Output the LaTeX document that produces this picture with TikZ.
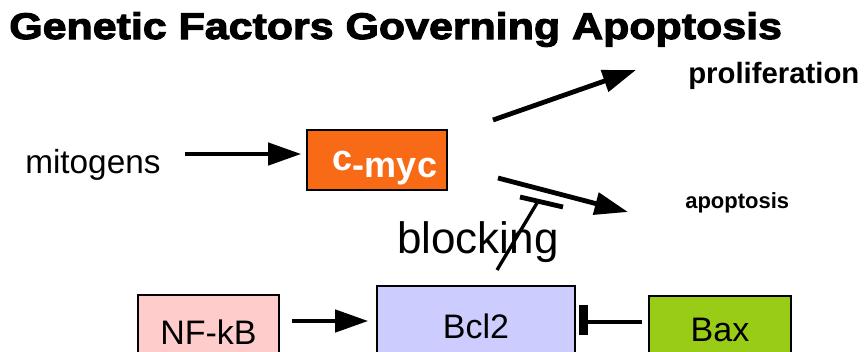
\documentclass[tikz,border=0pt]{standalone}
\usepackage{fontspec}
\setmainfont{Liberation Sans}
\newfontfamily\titlefont{Liberation Sans Bold}[FakeStretch=1.16,FakeBold=3]
\usetikzlibrary{arrows.meta}
\definecolor{mycorange}{HTML}{F96A17}
\definecolor{nfkbpink}{HTML}{FFCCCC}
\definecolor{bclblue}{HTML}{CCCCFF}
\definecolor{baxgreen}{HTML}{99CC16}

\begin{document}
\begin{tikzpicture}[x=0.75pt,y=-0.75pt,color=black,
  thickline/.style={line width=3.6pt},
  arr/.style={thickline,-{Triangle[length=25pt,width=16.5pt]}},
  gene/.style={draw,line width=1pt,inner sep=0pt,font=\fontsize{25.5pt}{30pt}\selectfont}]
\useasboundingbox (0,0) rectangle (867,351);
\node[anchor=base west,inner sep=0pt,font=\titlefont\fontsize{27.75pt}{30pt}\selectfont] (title) at (9,39) {Genetic Factors Governing Apoptosis};
\node[anchor=base west,inner sep=0pt,font=\bfseries\fontsize{22pt}{26pt}\selectfont] (prolif) at (688,83) {proliferation};
\node[anchor=base west,inner sep=0pt,font=\fontsize{25pt}{30pt}\selectfont] (mitogens) at (25,173) {mitogens};
\node[anchor=base west,inner sep=0pt,font=\bfseries\fontsize{16.5pt}{20pt}\selectfont] (apopt) at (685,208) {apoptosis};
\node[anchor=base west,inner sep=0pt,font=\fontsize{33pt}{38pt}\selectfont] (blocking) at (397,253) {blocking};
\node[gene,fill=mycorange,text=white,font=\bfseries\fontsize{27pt}{30pt}\selectfont,
  minimum width=105pt,minimum height=45pt,text height=30pt,text depth=4.5pt] (cmyc) at (377,160) {\hspace*{12pt}\raisebox{5pt}{c}-myc};
\node[gene,fill=nfkbpink,minimum width=105.75pt,minimum height=56.25pt] (nfkb) at (208.5,332.5) {NF-kB};
\node[gene,fill=bclblue,minimum width=148.5pt,minimum height=60pt] (bcl2) at (476,326) {Bcl2};
\node[gene,fill=baxgreen,minimum width=106.5pt,minimum height=50.25pt] (bax) at (720,329.5) {Bax};
\coordinate (mitoOut) at (185,154);
\coordinate (prolifIn) at (493,120);
\coordinate (prolifTip) at (636,70);
\coordinate (apoptIn) at (498,178);
\coordinate (apoptTip) at (628,212);
\coordinate (blockIn) at (497,270);
\coordinate (blockTip) at (537,203);
\coordinate (blockBarA) at (520,197);
\coordinate (blockBarB) at (563,207);
\coordinate (nfkbOut) at (292,321);
\coordinate (baxOut) at (642,322);
\coordinate (baxBarA) at (583.5,305);
\coordinate (baxBarB) at (583.5,335);
\draw[arr,shorten >=3.75pt] (mitoOut) -- (mitoOut -| cmyc.west);
\draw[arr] (prolifIn) -- (prolifTip);
\draw[arr] (apoptIn) -- (apoptTip);
\draw[line width=2.5pt] (blockIn) -- (blockTip);
\draw[thickline] (blockBarA) -- (blockBarB);
\draw[arr,shorten >=6pt] (nfkbOut) -- (nfkbOut -| bcl2.west);
\draw[thickline] (baxOut) -- (baxOut -| baxBarA);
\draw[line width=6.75pt] (baxBarA) -- (baxBarB);
\end{tikzpicture}
\end{document}
